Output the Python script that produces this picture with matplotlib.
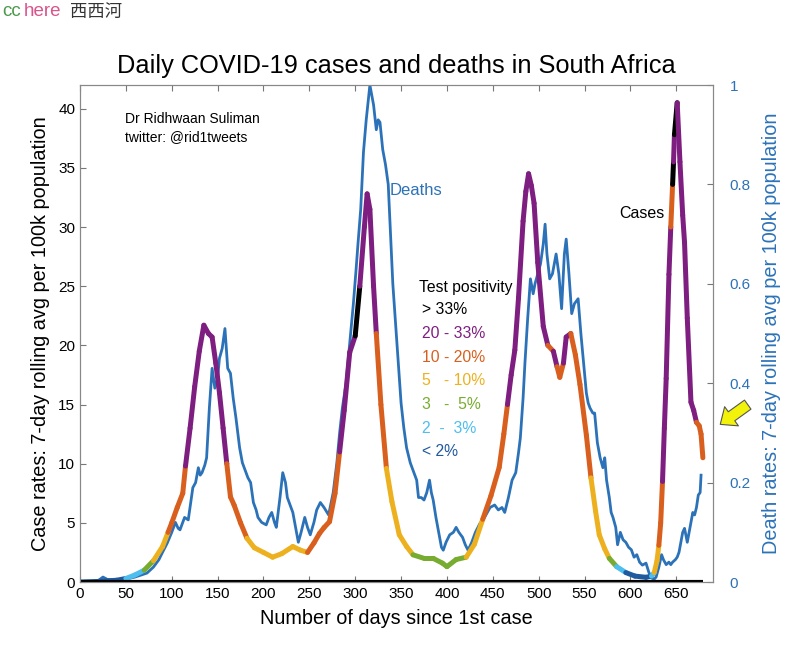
import numpy as np
import matplotlib.pyplot as plt
from matplotlib.collections import LineCollection

plt.rcParams['font.family'] = ['Liberation Sans', 'DejaVu Sans']

# test positivity bands (label, colour)
bands = ['> 33%', '20 - 33%', '10 - 20%', '5   - 10%', '3   -  5%', '2  -  3%', '< 2%']
band_colors = ['#000000', '#7E1E80', '#D95F1E', '#EDB120', '#77AC30', '#4DBEEE', '#1F5A9E']

# cases per 100k (7-day avg) and the positivity band index of each point
days_c = [0, 20, 40, 50, 60, 70, 80, 90, 96, 100, 106, 112, 115, 120, 125, 130, 135, 140, 144,
          148, 152, 156, 160, 164, 168, 175, 182, 190, 200, 210, 220, 232, 240, 248, 255, 261,
          266, 272, 278, 283, 288, 294, 300, 305, 310, 313, 316, 320, 323, 328, 334, 340, 348,
          356, 363, 375, 385, 395, 400, 410, 421, 430, 439, 448, 457, 462, 466, 470, 474, 478,
          483, 486, 489, 492, 495, 499, 505, 510, 516, 520, 523, 527, 530, 535, 540, 545, 552,
          557, 562, 566, 572, 577, 585, 595, 605, 617, 623, 626, 629, 631, 633, 635, 637, 639,
          642, 644, 646, 647, 648, 651, 654, 657, 659, 662, 666, 669, 672, 675, 677, 679]
cases = [0, 0.05, 0.15, 0.3, 0.6, 1.0, 1.8, 3.0, 4.2, 5.0, 6.3, 7.5, 9.8, 13, 16.5, 19.5, 21.7,
         21, 20.7, 18.5, 16, 13, 10, 7.2, 6.5, 5, 3.7, 2.9, 2.5, 2.1, 2.4, 3.0, 2.7, 2.5, 3.3,
         4.1, 4.6, 5.1, 7.5, 11, 14.5, 19.4, 20.8, 25, 30, 32.8, 31.5, 25, 21, 15, 9.6, 6.8, 4,
         3.0, 2.3, 2.0, 2.0, 1.6, 1.3, 1.9, 2.1, 3.2, 5.3, 7.3, 9.7, 12.5, 15, 17.5, 19.6, 24,
         30.5, 33, 34.5, 33.5, 32, 27, 21.6, 20, 19.5, 18.2, 17.3, 18.5, 20.7, 21, 19.2, 16.7,
         12.4, 8.8, 6, 4.0, 2.8, 2.0, 1.3, 0.8, 0.5, 0.4, 0.5, 0.8, 1.8, 3.1, 5, 8.5, 13, 17.2,
         26, 30, 33.6, 35.5, 37.8, 40.5, 35.5, 31, 28.7, 22.3, 15.2, 14.5, 13.5, 13.2, 12.5, 10.5]
band_idx = [6, 6, 6, 5, 5, 4, 3, 3, 2, 2, 2, 2, 1, 1, 1, 1, 1, 1, 1,
            1, 1, 1, 2, 2, 2, 2, 3, 3, 3, 3, 3, 3, 3, 2, 2, 2,
            2, 2, 2, 1, 1, 1, 0, 1, 1, 1, 1, 1, 2, 2, 3, 3, 3,
            3, 4, 4, 4, 4, 4, 4, 3, 3, 2, 2, 2, 2, 1, 1, 1, 1,
            1, 1, 1, 1, 1, 1, 1, 2, 1, 2, 2, 1, 1, 2, 2, 2, 2,
            3, 3, 3, 3, 4, 5, 6, 6, 6, 5, 3, 3, 2, 2, 1, 1, 1,
            1, 2, 0, 1, 0, 1, 1, 1, 1, 1, 1, 1, 2, 2, 2, 2]

# deaths per 100k (7-day avg)
days_d = [0, 10, 20, 25, 30, 40, 50, 60, 68, 73, 80, 86, 90, 95, 100, 104, 107, 109, 112, 114,
          118, 123, 126, 129, 131, 133, 136, 138, 141, 144, 147, 150, 152, 155, 158, 161, 164,
          167, 170, 174, 177, 180, 183, 186, 189, 192, 194, 198, 203, 206, 209, 212, 214, 218,
          221, 224, 226, 229, 232, 235, 238, 241, 245, 248, 251, 255, 258, 262, 266, 271, 276,
          280, 283, 286, 290, 294, 298, 301, 303, 306, 309, 312, 316, 318, 320, 323, 325, 327,
          330, 333, 336, 338, 341, 344, 347, 350, 353, 356, 360, 364, 367, 369, 372, 375, 378,
          381, 383, 385, 388, 391, 394, 396, 399, 403, 407, 410, 413, 417, 420, 423, 427, 431,
          436, 441, 447, 452, 456, 460, 463, 467, 471, 475, 478, 480, 483, 485, 488, 491, 494,
          496, 499, 502, 505, 507, 509, 512, 515, 519, 522, 525, 528, 530, 533, 536, 539, 543,
          546, 548, 552, 554, 556, 559, 561, 564, 567, 570, 572, 574, 577, 579, 581, 584, 586,
          589, 592, 595, 598, 601, 604, 607, 610, 613, 617, 620, 623, 626, 628, 631, 634, 636,
          639, 642, 644, 646, 649, 651, 653, 655, 657, 659, 661, 662, 664, 666, 668, 670, 672,
          674, 676, 677]
deaths = [0, 0, 0.003, 0.01, 0.005, 0.004, 0.006, 0.01, 0.015, 0.018, 0.03, 0.045, 0.06, 0.078,
          0.1, 0.12, 0.108, 0.105, 0.12, 0.13, 0.125, 0.19, 0.2, 0.23, 0.215, 0.22, 0.235, 0.25,
          0.35, 0.43, 0.39, 0.41, 0.45, 0.47, 0.51, 0.43, 0.42, 0.37, 0.33, 0.27, 0.24, 0.225,
          0.21, 0.2, 0.16, 0.145, 0.13, 0.12, 0.115, 0.13, 0.14, 0.12, 0.11, 0.17, 0.22, 0.2,
          0.17, 0.155, 0.14, 0.11, 0.08, 0.1, 0.13, 0.11, 0.095, 0.12, 0.145, 0.16, 0.15, 0.135,
          0.18, 0.24, 0.30, 0.35, 0.40, 0.48, 0.56, 0.63, 0.68, 0.75, 0.865, 0.93, 1.0, 0.98,
          0.96, 0.91, 0.93, 0.925, 0.87, 0.84, 0.80, 0.72, 0.60, 0.52, 0.44, 0.36, 0.31, 0.27,
          0.24, 0.22, 0.205, 0.17, 0.17, 0.165, 0.18, 0.205, 0.18, 0.165, 0.13, 0.1, 0.07, 0.064,
          0.08, 0.095, 0.1, 0.11, 0.1, 0.09, 0.075, 0.064, 0.08, 0.1, 0.118, 0.13, 0.15, 0.155,
          0.145, 0.15, 0.14, 0.17, 0.205, 0.22, 0.26, 0.29, 0.37, 0.44, 0.53, 0.61, 0.58, 0.60,
          0.62, 0.64, 0.68, 0.72, 0.66, 0.61, 0.62, 0.66, 0.62, 0.55, 0.66, 0.69, 0.62, 0.54,
          0.56, 0.57, 0.5, 0.46, 0.38, 0.36, 0.35, 0.34, 0.34, 0.28, 0.25, 0.23, 0.25, 0.205,
          0.17, 0.14, 0.13, 0.11, 0.075, 0.1, 0.085, 0.08, 0.07, 0.065, 0.05, 0.055, 0.04, 0.034,
          0.038, 0.02, 0.008, 0.006, 0.01, 0.03, 0.055, 0.045, 0.035, 0.04, 0.035, 0.04, 0.045,
          0.05, 0.06, 0.08, 0.1, 0.108, 0.09, 0.08, 0.1, 0.12, 0.14, 0.135, 0.15, 0.175, 0.18,
          0.215]

blue = '#2C72B8'

fig = plt.figure(figsize=(8.09, 6.59), dpi=100)
ax = fig.add_axes([0.0989, 0.1168, 0.7824, 0.7542])
ax2 = ax.twinx()
ax.set_zorder(ax2.get_zorder() + 1)
ax.patch.set_visible(False)

# deaths on the right axis
ax2.plot(days_d, deaths, color=blue, lw=2.0, solid_joinstyle='round')
ax2.set_ylim(0, 1)
ax2.set_yticks([0, 0.2, 0.4, 0.6, 0.8, 1])
ax2.set_yticklabels(['0', '0.2', '0.4', '0.6', '0.8', '1'])
ax2.tick_params(axis='y', direction='in', colors=blue, labelsize=11, length=4, pad=12)
ax2.tick_params(axis='y', color='#777777')
ax2.set_ylabel('Death rates: 7-day rolling avg per 100k population', color=blue,
               fontsize=14.3, labelpad=8)

# cases coloured by positivity
pts = np.column_stack([days_c, cases])
segs = np.stack([pts[:-1], pts[1:]], axis=1)
seg_cols = [band_colors[b] for b in band_idx[:-1]]
lc = LineCollection(segs, colors=seg_cols, linewidths=3.6, capstyle='round', joinstyle='round')
ax.add_collection(lc)
ax.hlines(0, days_c[0], days_c[-1], color='black', lw=3)

ax.set_xlim(0, 690)
ax.set_ylim(0, 42)
ax.set_xticks(np.arange(0, 651, 50))
ax.set_yticks(np.arange(0, 41, 5))
ax.tick_params(direction='in', labelsize=11, length=4, top=True, color='#777777')
ax.set_xlabel('Number of days since 1st case', fontsize=14.3, labelpad=6)
ax.set_ylabel('Case rates: 7-day rolling avg per 100k population', fontsize=14.3, labelpad=6)
for a in (ax, ax2):
    for s in a.spines.values():
        s.set_color('#888888')
        s.set_linewidth(0.8)

ax.set_title('Daily COVID-19 cases and deaths in South Africa', fontsize=18.3, pad=9)

ax.text(49, 39.1, 'Dr Ridhwaan Suliman', fontsize=10, va='center')
ax.text(49, 37.6, 'twitter: @rid1tweets', fontsize=10, va='center')
ax.text(338, 33.1, 'Deaths', fontsize=12, color=blue, va='center')
ax.text(588, 31.1, 'Cases', fontsize=11.5, va='center')

ax.text(369, 24.9, 'Test positivity', fontsize=11.3, va='center')
for i, (lab, col) in enumerate(zip(bands, band_colors)):
    ax.text(373, 23.0 - 2.0 * i, lab, fontsize=11.3, color=col, va='center')

# yellow arrow pointing at the last case value
ax.annotate('', xy=(718, 233), xycoords='figure pixels', xytext=(750, 256),
            textcoords='figure pixels',
            arrowprops=dict(arrowstyle='simple,head_width=1.7,head_length=1.0,tail_width=0.8',
                            fc='#F2F20A', ec='#555555', lw=0.8))

# watermark
fig.text(0.003, 0.982, 'cc', color='#4C9A4C', fontsize=13.5, va='center')
fig.text(0.029, 0.982, 'here', color='#D9558C', fontsize=13.5, va='center')
fig.text(0.086, 0.982, '西西河', color='#333333', fontsize=12.5, va='center',
         family=['Noto Sans CJK SC', 'DejaVu Sans'])

fig.savefig('out.png', dpi=100)
